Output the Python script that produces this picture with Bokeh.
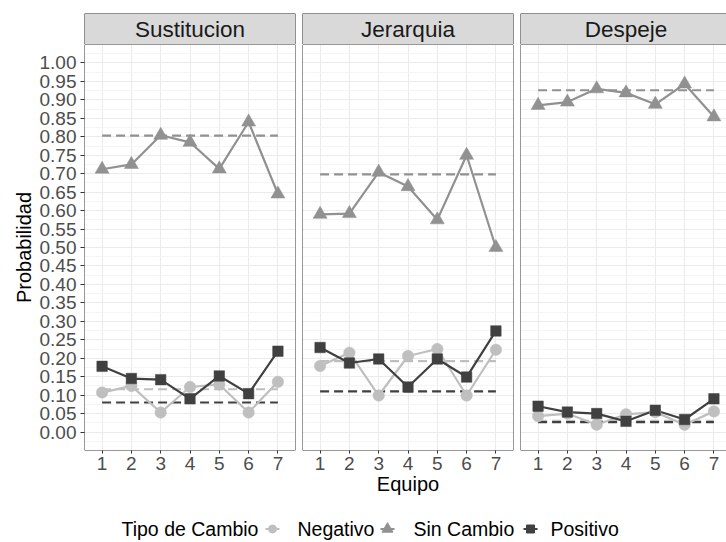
from bokeh.plotting import figure
from bokeh.layouts import column, row
from bokeh.models import Range1d, FixedTicker, Span, LinearAxis, Grid, PrintfTickFormatter
from bokeh.embed import file_html
from bokeh.resources import INLINE
from bokeh.core.properties import value

FONT_NAME = "Liberation Sans"
FONT = value(FONT_NAME)

# ---- data -------------------------------------------------------------
equipos = [1, 2, 3, 4, 5, 6, 7]
paneles = ["Sustitucion", "Jerarquia", "Despeje"]
tipos = ["Negativo", "Sin Cambio", "Positivo"]

sust_neg = [0.107, 0.125, 0.053, 0.122, 0.129, 0.053, 0.136]
sust_sin = [0.712, 0.725, 0.804, 0.785, 0.713, 0.840, 0.645]
sust_pos = [0.178, 0.145, 0.142, 0.090, 0.152, 0.104, 0.219]

jer_neg = [0.179, 0.215, 0.099, 0.206, 0.225, 0.099, 0.223]
jer_sin = [0.590, 0.592, 0.704, 0.665, 0.575, 0.750, 0.500]
jer_pos = [0.229, 0.187, 0.198, 0.122, 0.198, 0.149, 0.274]

desp_neg = [0.043, 0.050, 0.020, 0.048, 0.054, 0.020, 0.056]
desp_sin = [0.885, 0.894, 0.930, 0.919, 0.888, 0.943, 0.854]
desp_pos = [0.070, 0.054, 0.050, 0.029, 0.059, 0.034, 0.090]

# horizontal reference level per tipo (Negativo, Sin Cambio, Positivo)
sust_ref = [0.116, 0.803, 0.080]
jer_ref = [0.192, 0.698, 0.110]
desp_ref = [0.030, 0.926, 0.027]

y_ticks = [0.00, 0.05, 0.10, 0.15, 0.20, 0.25, 0.30, 0.35, 0.40, 0.45, 0.50,
           0.55, 0.60, 0.65, 0.70, 0.75, 0.80, 0.85, 0.90, 0.95, 1.00]
y_minor = [-0.025] + [t + 0.025 for t in y_ticks]

series = {
    "Sustitucion": ([sust_neg, sust_sin, sust_pos], sust_ref),
    "Jerarquia": ([jer_neg, jer_sin, jer_pos], jer_ref),
    "Despeje": ([desp_neg, desp_sin, desp_pos], desp_ref),
}

# ---- styling ----------------------------------------------------------
colores = ["#BFBFBF", "#919191", "#404040"]
marcadores = ["circle", "triangle", "square"]
tamanos = [11.5, 14, 10.5]
BORDER = "#333333"
AXIS_TXT = "#4D4D4D"
TICK_SIZE = "19px"
STRIP_SIZE = "22.5px"
TITLE_SIZE = "20px"
LEG_SIZE = "19.5px"

LEFT_B = [84, 4, 4]
RIGHT_B = [3, 3, 0]
FRAME_W = [211, 211, 206]
UNIT = 211 / 7.2
X_RANGES = [(0.4, 7.6), (0.4, 7.6), (0.4, 0.4 + FRAME_W[2] / UNIT)]
STRIP_TOP = 13
STRIP_H = 31
PANEL_H = 406
PANEL_BOTTOM = 60
LEG_H = 542 - (STRIP_TOP + STRIP_H) - (PANEL_H + PANEL_BOTTOM)


def base_fig(i, height, top, bottom, yr):
    p = figure(width=LEFT_B[i] + FRAME_W[i] + RIGHT_B[i], height=height,
               x_range=Range1d(*X_RANGES[i]), y_range=yr,
               x_axis_type=None, y_axis_type=None,
               toolbar_location=None, output_backend="svg",
               min_border_left=LEFT_B[i], min_border_right=RIGHT_B[i],
               min_border_top=top, min_border_bottom=bottom)
    p.outline_line_color = None
    p.border_fill_color = "white"
    return p


def borders(p, left, right, bottom, top, draw_right):
    for loc in (bottom, top):
        p.add_layout(Span(location=loc, dimension="width",
                          line_color=BORDER, line_width=1))
    locs = [left, right] if draw_right else [left]
    for loc in locs:
        p.add_layout(Span(location=loc, dimension="height",
                          line_color=BORDER, line_width=1))


strips = []
panels = []
for i, nombre in enumerate(paneles):
    draw_right = i < 2

    # facet strip
    s = base_fig(i, STRIP_TOP + STRIP_H, STRIP_TOP, 0, Range1d(0, 1))
    s.background_fill_color = "#D9D9D9"
    s.text(x=[4], y=[0.5], text=[nombre], text_align="center",
           text_baseline="middle", text_font=FONT, text_font_size=STRIP_SIZE,
           text_color="#1A1A1A")
    borders(s, 0.4, 7.6, 0, 1, draw_right)
    strips.append(s)

    # data panel
    p = base_fig(i, PANEL_H + PANEL_BOTTOM, 0, PANEL_BOTTOM, Range1d(-0.05, 1.05))
    p.background_fill_color = "white"
    p.add_layout(Grid(dimension=0, ticker=FixedTicker(ticks=equipos),
                      grid_line_color="#EBEBEB", grid_line_width=1.1))
    p.add_layout(Grid(dimension=1,
                      ticker=FixedTicker(ticks=y_ticks, minor_ticks=y_minor),
                      grid_line_color="#EBEBEB", grid_line_width=1.1,
                      minor_grid_line_color="#F3F3F3", minor_grid_line_width=0.8))

    xax = LinearAxis(ticker=FixedTicker(ticks=equipos),
                     major_tick_out=3, major_tick_in=0,
                     minor_tick_line_color=None, axis_line_color=None,
                     major_tick_line_color=BORDER, major_label_standoff=3,
                     major_label_text_font=FONT_NAME, major_label_text_font_size=TICK_SIZE,
                     major_label_text_color=AXIS_TXT)
    if i == 1:
        xax.axis_label = "Equipo"
        xax.axis_label_standoff = 0
        xax.axis_label_text_font = FONT_NAME
        xax.axis_label_text_font_size = TITLE_SIZE
        xax.axis_label_text_font_style = "normal"
        xax.axis_label_text_color = "#000000"
    p.add_layout(xax, "below")

    if i == 0:
        yax = LinearAxis(ticker=FixedTicker(ticks=y_ticks),
                         formatter=PrintfTickFormatter(format="%.2f"),
                         major_tick_out=4, major_tick_in=0,
                         minor_tick_line_color=None, axis_line_color=None,
                         major_tick_line_color=BORDER, major_label_standoff=4,
                         major_label_text_font=FONT_NAME, major_label_text_font_size=TICK_SIZE,
                         major_label_text_color=AXIS_TXT,
                         axis_label="Probabilidad", axis_label_standoff=2,
                         axis_label_text_font=FONT_NAME, axis_label_text_font_size=TITLE_SIZE,
                         axis_label_text_font_style="normal",
                         axis_label_text_color="#000000")
        p.add_layout(yax, "left")

    valores, refs = series[nombre]
    # dashed reference levels
    for k in range(3):
        p.line(x=[equipos[0], equipos[-1]], y=[refs[k], refs[k]],
               line_color=colores[k], line_width=2.2, line_dash="9 5")
    # connecting lines
    for k in range(3):
        p.line(x=equipos, y=valores[k], line_color=colores[k], line_width=2.2)
    # points
    for k in range(3):
        p.scatter(x=equipos, y=valores[k], marker=marcadores[k], size=tamanos[k],
                  fill_color=colores[k], line_color=colores[k], line_width=0.5)

    borders(p, 0.4, 7.6, -0.05, 1.05, draw_right)
    panels.append(p)

# ---- legend row -------------------------------------------------------
leg = figure(width=726, height=LEG_H, x_range=Range1d(0, 726), y_range=Range1d(0, LEG_H),
             x_axis_type=None, y_axis_type=None, toolbar_location=None,
             output_backend="svg", min_border=0)
leg.outline_line_color = None
leg.grid.visible = False
ly = LEG_H - 18.5
leg.text(x=[121], y=[ly], text=["Tipo de Cambio"], text_align="left",
         text_baseline="middle", text_font=FONT, text_font_size=LEG_SIZE,
         text_color="#000000")
key_x = [272, 387, 530]
lab_x = [297, 413, 550]
key_sizes = [8, 11, 8]
for k in range(3):
    leg.line(x=[key_x[k] - 7, key_x[k] + 7], y=[ly, ly], line_color=colores[k], line_width=2)
    leg.scatter(x=[key_x[k]], y=[ly], marker=marcadores[k], size=key_sizes[k],
                fill_color=colores[k], line_color=colores[k])
    leg.text(x=[lab_x[k]], y=[ly], text=[tipos[k]], text_align="left",
             text_baseline="middle", text_font=FONT, text_font_size=LEG_SIZE,
             text_color="#000000")

layout = column(row(*strips, spacing=0), row(*panels, spacing=0), leg, spacing=0)

open("out.html", "w").write(file_html(layout, INLINE))
